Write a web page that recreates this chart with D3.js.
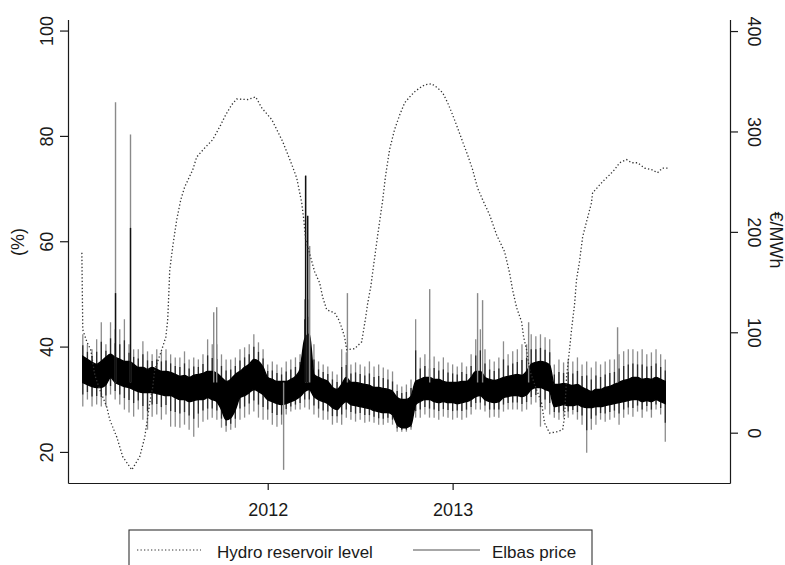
<!DOCTYPE html>
<html><head><meta charset="UTF-8"><title>Hydro reservoir level and Elbas price</title>
<script src="https://cdnjs.cloudflare.com/ajax/libs/d3/7.8.5/d3.min.js"></script>
<style>
  body { margin: 0; background: #fff; }
  svg { font-family: 'Liberation Sans', Arial, sans-serif; }
</style>
</head>
<body>
<svg id="chart" width="785" height="565"></svg>
<script>
// hydro reservoir level (%), decimal year
const hydroT = [2010.995, 2011.000, 2011.022, 2011.043, 2011.065, 2011.092, 2011.114, 2011.130, 2011.146, 2011.184,
  2011.216, 2011.265, 2011.308, 2011.335, 2011.351, 2011.362, 2011.378, 2011.389, 2011.427, 2011.449,
  2011.459, 2011.465, 2011.470, 2011.486, 2011.508, 2011.530, 2011.551, 2011.595, 2011.616, 2011.659,
  2011.703, 2011.746, 2011.773, 2011.805, 2011.832, 2011.892, 2011.935, 2011.968, 2012.022, 2012.049,
  2012.081, 2012.114, 2012.135, 2012.157, 2012.173, 2012.184, 2012.195, 2012.205, 2012.227, 2012.254,
  2012.281, 2012.297, 2012.319, 2012.362, 2012.384, 2012.400, 2012.416, 2012.427, 2012.470, 2012.508,
  2012.519, 2012.530, 2012.541, 2012.557, 2012.568, 2012.595, 2012.622, 2012.638, 2012.659, 2012.686,
  2012.714, 2012.741, 2012.768, 2012.795, 2012.822, 2012.849, 2012.886, 2012.919, 2012.946, 2012.973,
  2013.000, 2013.027, 2013.054, 2013.081, 2013.108, 2013.135, 2013.162, 2013.200, 2013.238, 2013.281,
  2013.308, 2013.324, 2013.346, 2013.373, 2013.384, 2013.400, 2013.416, 2013.449, 2013.481, 2013.497,
  2013.524, 2013.562, 2013.595, 2013.605, 2013.616, 2013.632, 2013.643, 2013.659, 2013.670, 2013.686,
  2013.703, 2013.724, 2013.751, 2013.757, 2013.773, 2013.795, 2013.822, 2013.849, 2013.876, 2013.903,
  2013.941, 2013.968, 2014.000, 2014.038, 2014.076, 2014.108, 2014.135, 2014.162];
const hydroLevel = [57.8, 43.2, 40.9, 39.4, 34.6, 31.8, 29.9, 28.5, 26.1, 22.8,
  19.1, 16.6, 19.1, 22.8, 26.6, 29.3, 32.3, 35.6, 39.4, 41.8,
  45.1, 50.0, 54.4, 58.9, 64.1, 67.9, 70.3, 73.6, 76.0, 77.7,
  79.3, 82.1, 84.0, 85.9, 87.0, 86.9, 87.4, 85.3, 83.1, 81.2,
  78.9, 76.0, 74.1, 72.0, 69.2, 67.3, 64.1, 60.3, 57.6, 54.2,
  52.1, 49.4, 47.0, 46.4, 45.1, 43.6, 41.8, 39.4, 39.6, 40.9,
  43.2, 45.6, 48.3, 51.3, 54.2, 61.2, 67.9, 72.6, 77.4, 81.2,
  84.0, 86.3, 87.4, 88.4, 89.1, 89.7, 89.9, 89.1, 88.2, 86.3,
  84.0, 81.5, 78.9, 76.4, 73.6, 70.1, 67.9, 65.0, 61.2, 58.0,
  54.0, 50.8, 47.4, 44.7, 41.8, 39.4, 35.6, 32.3, 29.3, 25.5,
  23.6, 23.8, 24.2, 26.6, 34.2, 39.4, 43.2, 47.9, 52.7, 56.1,
  60.8, 63.7, 67.3, 69.2, 69.8, 70.7, 71.7, 72.6, 73.6, 74.9,
  75.5, 74.9, 74.9, 73.9, 73.6, 73.0, 73.9, 73.9];

// Elbas price (EUR/MWh), 9-day bins from 2011.0: dense band and outer range
const binStart = 2011.0, binStep = 0.025;
const bandHi = [76, 73, 70, 68, 71, 75, 78, 75, 73, 71,
  71, 68, 65, 65, 63, 65, 63, 61, 61, 60,
  58, 56, 57, 55, 57, 58, 59, 61, 61, 59,
  55, 51, 53, 58, 61, 65, 68, 73, 71, 65,
  55, 53, 51, 51, 51, 53, 56, 63, 93, 98,
  58, 55, 53, 51, 45, 43, 48, 55, 50, 50,
  49, 48, 47, 45, 45, 44, 43, 41, 35, 33,
  33, 36, 51, 53, 55, 55, 53, 53, 51, 50,
  50, 50, 51, 51, 55, 61, 61, 55, 53, 52,
  53, 55, 56, 57, 58, 57, 61, 68, 70, 71,
  70, 67, 48, 48, 49, 48, 47, 48, 45, 43,
  41, 43, 43, 45, 46, 48, 50, 52, 53, 55,
  55, 53, 54, 53, 55, 53, 51];
const bandLo = [50, 48, 46, 45, 45, 48, 55, 50, 48, 46,
  45, 43, 41, 40, 40, 40, 39, 38, 37, 37,
  35, 33, 33, 31, 32, 33, 33, 35, 33, 31,
  23, 13, 15, 23, 35, 37, 40, 43, 41, 38,
  33, 31, 29, 28, 29, 31, 33, 36, 41, 43,
  36, 33, 31, 29, 25, 23, 28, 31, 28, 27,
  26, 25, 24, 22, 21, 20, 20, 18, 8, 5,
  5, 8, 28, 31, 33, 33, 31, 30, 31, 30,
  30, 29, 30, 31, 33, 36, 37, 33, 31, 30,
  31, 35, 36, 37, 37, 36, 38, 43, 45, 45,
  43, 41, 26, 27, 28, 27, 27, 28, 26, 25,
  25, 26, 26, 27, 28, 29, 30, 31, 32, 33,
  33, 31, 32, 31, 33, 31, 29];
const wickHi = [98, 88, 83, 93, 110, 88, 110, 103, 103, 113,
  88, 83, 83, 91, 81, 78, 83, 81, 83, 78,
  75, 75, 81, 73, 75, 73, 78, 93, 88, 88,
  78, 73, 73, 75, 83, 85, 88, 98, 90, 83,
  68, 71, 68, 65, 71, 73, 75, 78, 133, 133,
  88, 71, 68, 66, 61, 58, 83, 80, 68, 70,
  68, 66, 71, 66, 68, 65, 63, 61, 48, 46,
  48, 53, 113, 75, 78, 73, 76, 71, 75, 70,
  68, 66, 70, 66, 78, 93, 103, 83, 73, 71,
  75, 91, 78, 81, 83, 88, 88, 98, 96, 98,
  95, 93, 68, 73, 70, 73, 71, 75, 68, 71,
  65, 71, 68, 71, 73, 73, 78, 81, 83, 83,
  81, 83, 78, 80, 83, 78, 73];
const wickLo = [26, 33, 26, 28, 26, 26, 38, 33, 28, 23,
  20, 16, 23, 13, 3, 16, 18, 13, 18, 6,
  6, 5, 8, 3, -4, 5, 11, 13, 15, 13,
  5, 1, 3, 5, 13, 15, 18, 21, 15, 13,
  13, 8, 6, 8, 18, 21, 23, 23, 25, 23,
  18, 15, 13, 13, 8, 10, 8, 15, 13, 11,
  13, 10, 11, 10, 8, 8, 10, 8, 1, 1,
  1, 3, 15, 15, 18, 15, 15, 13, 16, 15,
  13, 15, 13, 15, 18, 23, 23, 21, 15, 16,
  15, 21, 23, 23, 23, 21, 23, 28, 30, 6,
  23, 18, 15, 13, 15, 15, 18, 13, 8, -20,
  3, 8, 13, 11, 13, 15, 8, 15, 18, 16,
  21, 15, 21, 15, 23, 18, -9];

// single price spikes
const spikeT = [2011.177, 2011.258, 2011.708, 2011.724, 2012.086, 2012.205, 2012.216, 2012.227,
  2012.431, 2012.876, 2013.135, 2013.162, 2013.411, 2013.892];
const spikeVal = [329, 297, 120, 125, -37, 256, 216, 186, 139, 143, 139, 132, 110, 105];
const spikeDarkTop = [139, 204, 0, 0, 0, 256, 216, 0, 0, 0, 0, 0, 0, 0];

const yearTicks = [2012, 2013];
const pctTicks = [20, 40, 60, 80, 100];
const priceTicks = [0, 100, 200, 300, 400];
const legendLabels = ["Hydro reservoir level", "Elbas price"];

const svg = d3.select("#chart");
const ink = "#1a1a1a";

const x = d3.scaleLinear().domain([2010.92, 2014.5]).range([68, 730]);
const yPct = d3.scaleLinear().domain([14.1, 102.1]).range([483, 19.5]);
const yPrice = d3.scaleLinear().domain([-50.1, 411.5]).range([483, 19.5]);

const bins = d3.range(bandHi.length).map(i => ({
  t: binStart + i * binStep, hi: bandHi[i], lo: bandLo[i], wHi: wickHi[i], wLo: wickLo[i]
}));

// price: outer range, light tips
svg.append("g").selectAll("line").data(bins).enter().append("line")
  .attr("x1", d => x(d.t)).attr("x2", d => x(d.t))
  .attr("y1", d => yPrice(d.wLo)).attr("y2", d => yPrice(d.wHi))
  .attr("stroke", "#8c8c8c").attr("stroke-width", 1.3);

// price: darker inner part of the range
svg.append("g").selectAll("line").data(bins).enter().append("line")
  .attr("x1", d => x(d.t)).attr("x2", d => x(d.t))
  .attr("y1", d => yPrice((d.lo + d.wLo) / 2)).attr("y2", d => yPrice((d.hi + d.wHi) / 2))
  .attr("stroke", "#2a2a2a").attr("stroke-width", 1.3);

// price: dense band (black)
const band = d3.area().curve(d3.curveMonotoneX)
  .x(d => x(d.t)).y0(d => yPrice(d.lo)).y1(d => yPrice(d.hi));
svg.append("path").datum(bins).attr("d", band)
  .attr("fill", "#000").attr("stroke", "#000").attr("stroke-width", 1.5);

// spikes
const spikes = spikeT.map((t, i) => ({ t: t, v: spikeVal[i], dark: spikeDarkTop[i] }));
svg.append("g").selectAll("line").data(spikes).enter().append("line")
  .attr("x1", d => x(d.t)).attr("x2", d => x(d.t))
  .attr("y1", yPrice(50)).attr("y2", d => yPrice(d.v))
  .attr("stroke", "#8a8a8a").attr("stroke-width", 1.4);
svg.append("g").selectAll("line").data(spikes.filter(d => d.dark)).enter().append("line")
  .attr("x1", d => x(d.t)).attr("x2", d => x(d.t))
  .attr("y1", yPrice(50)).attr("y2", d => yPrice(d.dark))
  .attr("stroke", "#111").attr("stroke-width", 1.4);

// hydro reservoir level (dotted)
const hydroLine = d3.line().x((d, i) => x(hydroT[i])).y(d => yPct(d));
svg.append("path").datum(hydroLevel).attr("d", hydroLine)
  .attr("fill", "none").attr("stroke", "#333").attr("stroke-width", 1.3)
  .attr("stroke-dasharray", "1.3,2.2");

// axes
function styleAxis(g) {
  g.select(".domain").attr("stroke", ink).attr("stroke-width", 1.2);
  g.selectAll(".tick line").attr("stroke", ink).attr("stroke-width", 1.2);
  g.selectAll(".tick text").attr("fill", ink).style("font-size", "18px");
}

svg.append("g").attr("transform", "translate(0,483)")
  .call(d3.axisBottom(x).tickValues(yearTicks).tickFormat(d3.format("d")).tickSize(7).tickSizeOuter(0))
  .call(styleAxis)
  .call(g => g.selectAll(".tick text").attr("y", 0).attr("dy", "33px"));

svg.append("g").attr("transform", "translate(68,0)")
  .call(d3.axisLeft(yPct).tickValues(pctTicks).tickSize(8).tickSizeOuter(0))
  .call(styleAxis)
  .call(g => g.selectAll(".tick text")
    .attr("transform", "rotate(-90)").attr("x", 0).attr("y", -15).attr("dy", 0)
    .attr("text-anchor", "middle"));

svg.append("g").attr("transform", "translate(730,0)")
  .call(d3.axisRight(yPrice).tickValues(priceTicks).tickSize(8).tickSizeOuter(0))
  .call(styleAxis)
  .call(g => g.selectAll(".tick text")
    .attr("transform", "rotate(90)").attr("x", 0).attr("y", -18).attr("dy", 0)
    .attr("text-anchor", "middle"));

svg.append("text").attr("transform", "translate(24,242) rotate(-90)")
  .attr("text-anchor", "middle").attr("fill", ink).style("font-size", "18px").text("(%)");
svg.append("text").attr("transform", "translate(770,240) rotate(90)")
  .attr("text-anchor", "middle").attr("fill", ink).style("font-size", "18px").text("€/MWh");

// legend
const lg = svg.append("g");
lg.append("rect").attr("x", 129).attr("y", 530).attr("width", 463).attr("height", 60)
  .attr("fill", "#fff").attr("stroke", "#333").attr("stroke-width", 1.1);
lg.append("line").attr("x1", 137).attr("x2", 201).attr("y1", 550).attr("y2", 550)
  .attr("stroke", "#333").attr("stroke-width", 1.2).attr("stroke-dasharray", "1.3,2.2");
lg.append("text").attr("x", 217).attr("y", 558).attr("fill", ink).style("font-size", "17px").text(legendLabels[0]);
lg.append("line").attr("x1", 413).attr("x2", 480).attr("y1", 550).attr("y2", 550)
  .attr("stroke", "#8a8a8a").attr("stroke-width", 1.5);
lg.append("text").attr("x", 492).attr("y", 558).attr("fill", ink).style("font-size", "17px").text(legendLabels[1]);
</script>
</body></html>
